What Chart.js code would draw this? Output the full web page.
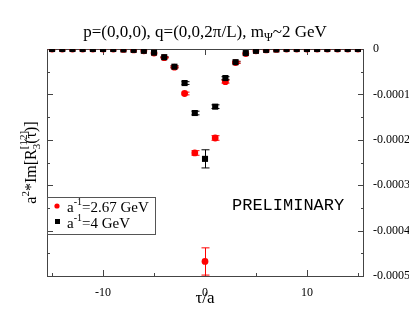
<!DOCTYPE html>
<html>
<head>
<meta charset="utf-8">
<script src="https://cdn.jsdelivr.net/npm/chart.js@4.4.1/dist/chart.umd.min.js"></script>
<style>
  html, body { margin: 0; padding: 0; background: #fff; }
  canvas { display: block; }
</style>
</head>
<body>
<canvas id="myChart" width="409" height="327"></canvas>
<script>
// tau/a values
const tau = [-15, -14, -13, -12, -11, -10, -9, -8, -7, -6, -5, -4, -3, -2, -1, 0,
             1, 2, 3, 4, 5, 6, 7, 8, 9, 10, 11, 12, 13, 14, 15];

// a^-1 = 4 GeV (black squares)
const im4 = [0, 0, 0, 0, 0, 0, 0, -0.000001, -0.000002, -0.000004, -0.000008, -0.000018, -0.000039, -0.000075, -0.000141, -0.000242,
             -0.000127, -0.000064, -0.000029, -0.000009, -0.000004, -0.000002, -0.000001, 0, 0, 0, 0, 0, 0, 0, 0];
const err4 = [0, 0, 0, 0, 0, 0, 0, 0, 0, 0, 0, 0.000001, 0.000002, 0.000003, 0.000004, 0.00002,
              0.000004, 0.000003, 0.000002, 0, 0, 0, 0, 0, 0, 0, 0, 0, 0, 0, 0];

// a^-1 = 2.67 GeV (red circles)
const im267 = [0, 0, 0, 0, 0, 0, 0, -0.000001, -0.000002, -0.000004, -0.000009, -0.000019, -0.000040, -0.000098, -0.000229, -0.000468,
               -0.000196, -0.000072, -0.000030, -0.000010, -0.000004, -0.000002, -0.000001, 0, 0, 0, 0, 0, 0, 0, 0];
const err267 = [0, 0, 0, 0, 0, 0, 0, 0, 0, 0, 0, 0.000001, 0.000002, 0.000003, 0.000005, 0.00003,
                0.000005, 0.000003, 0.000002, 0, 0, 0, 0, 0, 0, 0, 0, 0, 0, 0, 0];

const xTicks = [-10, 0, 10];
const xMinorTicks = [-15, -5, 5, 15];
const yTicks = [0, -0.0001, -0.0002, -0.0003, -0.0004, -0.0005];
const yTickLabels = ['0', '-0.0001', '-0.0002', '-0.0003', '-0.0004', '-0.0005'];
const yMinorTicks = [-0.00005, -0.00015, -0.00025, -0.00035, -0.00045];

const SERIF = '"Liberation Serif", "DejaVu Serif", serif';
Chart.defaults.font.family = SERIF;
Chart.defaults.color = '#000';

// draws a run of text pieces (normal / sub / superscript) from x,y
function richText(ctx, parts, x, y, align) {
    let w = 0;
    parts.forEach(p => { ctx.font = p.size + 'px ' + SERIF; p.w = ctx.measureText(p.t).width; if (!p.stack) w += p.w; });
    let cx = align === 'center' ? x - w / 2 : x;
    let last = 0;
    parts.forEach(p => {
        ctx.font = p.size + 'px ' + SERIF;
        if (p.stack) {
            ctx.fillText(p.t, cx - last, y + (p.dy || 0));
            return;
        }
        ctx.fillText(p.t, cx, y + (p.dy || 0));
        cx += p.w;
        last = p.w;
    });
}

const framePlugin = {
    id: 'frame',
    beforeDatasetsDraw(chart) {
        const { ctx, chartArea: { top, bottom, left, right }, scales: { x, y } } = chart;
        ctx.save();
        ctx.strokeStyle = '#444';
        ctx.lineWidth = 1;
        ctx.strokeRect(left + 0.5, top + 0.5, right - left, bottom - top);
        ctx.beginPath();
        const tick = (v, len) => {
            const px = Math.round(x.getPixelForValue(v)) + 0.5;
            ctx.moveTo(px, bottom); ctx.lineTo(px, bottom - len);
            ctx.moveTo(px, top); ctx.lineTo(px, top + len);
        };
        xTicks.forEach(v => tick(v, 6));
        xMinorTicks.forEach(v => tick(v, 3));
        const ytick = (v, len) => {
            const py = Math.round(y.getPixelForValue(v)) + 0.5;
            ctx.moveTo(left, py); ctx.lineTo(left + len, py);
            ctx.moveTo(right + 1, py); ctx.lineTo(right + 1 - len, py);
        };
        yTicks.forEach(v => ytick(v, 6));
        yMinorTicks.forEach(v => ytick(v, 3));
        ctx.stroke();

        // error bars
        chart.data.datasets.forEach(ds => {
            ctx.strokeStyle = ds.barColor;
            ds.errors.forEach((e, i) => {
                if (!e) return;
                const pt = ds.data[i];
                const px = Math.round(x.getPixelForValue(pt.x)) + 0.5;
                const y1 = y.getPixelForValue(pt.y + e);
                const y2 = y.getPixelForValue(pt.y - e);
                ctx.beginPath();
                ctx.moveTo(px, y1); ctx.lineTo(px, y2);
                ctx.moveTo(px - 4, y1); ctx.lineTo(px + 4, y1);
                ctx.moveTo(px - 4, y2); ctx.lineTo(px + 4, y2);
                ctx.stroke();
            });
        });
        ctx.restore();
    },
    afterDraw(chart) {
        const { ctx, chartArea: { top, bottom, left, right } } = chart;
        const midX = (left + right) / 2;
        ctx.save();
        ctx.fillStyle = '#000';
        ctx.textBaseline = 'alphabetic';
        ctx.textAlign = 'left';

        // title
        richText(ctx, [
            { t: 'p=(0,0,0), q=(0,0,2\u03c0/L), m', size: 17 },
            { t: '\u03a8', size: 12, dy: 4 },
            { t: '~2 GeV', size: 17 }
        ], midX, 37, 'center');

        // x title
        richText(ctx, [{ t: '\u03c4/a', size: 17 }], midX, 303, 'center');

        // y title
        ctx.save();
        ctx.translate(36, (top + bottom) / 2);
        ctx.rotate(-Math.PI / 2);
        richText(ctx, [
            { t: 'a', size: 16 },
            { t: '2', size: 11, dy: -7 },
            { t: '*Im[R', size: 16 },
            { t: '3', size: 11, dy: 4 },
            { t: '[12]', size: 11, dy: -9, stack: true },
            { t: '(\u03c4)]', size: 16 }
        ], 0, 0, 'center');
        ctx.restore();

        // legend
        ctx.strokeStyle = '#555';
        ctx.lineWidth = 1;
        ctx.strokeRect(left + 0.5, 197.5, 108, 37);
        ctx.fillStyle = '#ff0000';
        ctx.beginPath();
        ctx.arc(57, 206, 2.6, 0, Math.PI * 2);
        ctx.fill();
        ctx.fillStyle = '#000';
        ctx.fillRect(55, 219, 5, 5);
        richText(ctx, [
            { t: 'a', size: 15 },
            { t: '-1', size: 10, dy: -7 },
            { t: '=2.67 GeV', size: 15 }
        ], 67, 212, 'left');
        richText(ctx, [
            { t: 'a', size: 15 },
            { t: '-1', size: 10, dy: -7 },
            { t: '=4 GeV', size: 15 }
        ], 67, 228, 'left');

        // watermark
        ctx.font = '17px "Liberation Mono", "DejaVu Sans Mono", monospace';
        ctx.fillText('PRELIMINARY', 232, 210);
        ctx.restore();
    }
};

const ctx = document.getElementById('myChart').getContext('2d');
const myChart = new Chart(ctx, {
    type: 'scatter',
    data: {
        datasets: [{
            label: 'a^-1=4 GeV',
            data: tau.map((t, i) => ({ x: t, y: im4[i] })),
            errors: err4,
            barColor: '#000',
            pointStyle: 'rect',
            pointRadius: 4.3,
            backgroundColor: '#000',
            borderColor: '#000',
            borderWidth: 0
        }, {
            label: 'a^-1=2.67 GeV',
            data: tau.map((t, i) => ({ x: t, y: im267[i] })),
            errors: err267,
            barColor: '#ff0000',
            pointStyle: 'circle',
            pointRadius: 3.4,
            backgroundColor: '#ff0000',
            borderColor: '#ff0000',
            borderWidth: 0
        }]
    },
    options: {
        responsive: false,
        animation: false,
        events: [],
        layout: { padding: { left: 47, top: 49, right: 0, bottom: 0 } },
        plugins: {
            legend: { display: false },
            tooltip: { enabled: false }
        },
        scales: {
            x: {
                type: 'linear',
                min: -15.5,
                max: 15.5,
                afterBuildTicks: s => { s.ticks = xTicks.map(v => ({ value: v })); },
                afterFit: s => { s.height = 51; },
                grid: { display: false },
                border: { display: false },
                ticks: { padding: 2, font: { size: 12 }, maxRotation: 0, callback: v => String(v) }
            },
            y: {
                type: 'linear',
                position: 'right',
                min: -0.0005,
                max: 0,
                afterBuildTicks: s => { s.ticks = yTicks.map(v => ({ value: v })); },
                afterFit: s => { s.width = 46; },
                grid: { display: false },
                border: { display: false },
                ticks: {
                    padding: 2,
                    font: { size: 12 },
                    callback: (v, i) => yTickLabels[yTicks.indexOf(v)]
                }
            }
        }
    },
    plugins: [framePlugin]
});
</script>
</body>
</html>
